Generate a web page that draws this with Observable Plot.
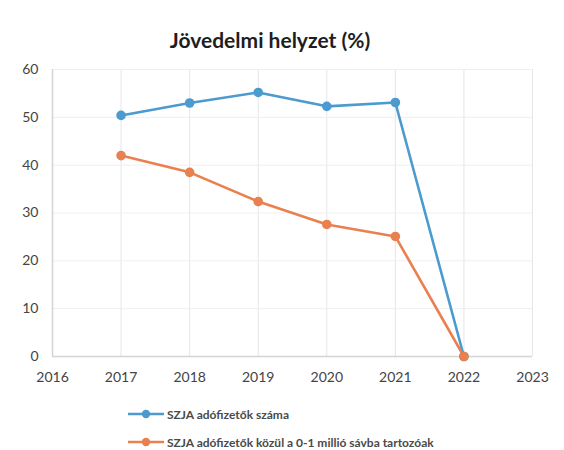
<!DOCTYPE html>
<html>
<head>
<meta charset="utf-8">
<script src="https://cdn.jsdelivr.net/npm/d3@7"></script>
<script src="https://cdn.jsdelivr.net/npm/@observablehq/plot@0.6"></script>
<style>
  body { margin: 0; background: #fff; font-family: Lato, "Open Sans", sans-serif; }
  #wrap { width: 564px; height: 450px; position: relative; }
  #title { height: 58px; line-height: 80px; text-align: center; font-weight: bold; font-size: 21px; color: #1e1e1e; padding-right: 24px; }
  #legend { position: absolute; left: 128px; top: 400px; font-size: 12px; font-weight: bold; color: #4a4a4a; }
  .item { display: flex; align-items: center; height: 28px; }
  .item svg { margin-right: 3px; }
</style>
</head>
<body>
<div id="wrap">
  <div id="title">Jövedelmi helyzet (%)</div>
  <div id="chart"></div>
  <div id="legend"></div>
</div>
<script>
const years = [2017, 2018, 2019, 2020, 2021, 2022];
const seriesNames = ["SZJA adófizetők száma", "SZJA adófizetők közül a 0-1 millió sávba tartozóak"];
const taxpayers = [50.4, 53.0, 55.2, 52.3, 53.1, 0];
const lowBand = [42.0, 38.5, 32.4, 27.6, 25.1, 0];
const xTicks = [2016, 2017, 2018, 2019, 2020, 2021, 2022, 2023];
const yTicks = [0, 10, 20, 30, 40, 50, 60];
const colors = ["#4b9bd0", "#e9804f"];

const data = [];
years.forEach((y, i) => {
  data.push({year: y, value: taxpayers[i], series: seriesNames[0]});
  data.push({year: y, value: lowBand[i], series: seriesNames[1]});
});

const chart = Plot.plot({
  width: 564,
  height: 333,
  marginTop: 11,
  marginLeft: 52,
  marginRight: 32,
  marginBottom: 35,
  style: {fontFamily: "Lato, 'Open Sans', sans-serif", fontSize: "14px", color: "#444", background: "#fff"},
  x: {domain: [2016, 2023], ticks: xTicks, tickFormat: d3.format("d"), tickSize: 0, tickPadding: 16, label: null},
  y: {domain: [0, 60], ticks: yTicks, tickSize: 0, tickPadding: 14, label: null},
  color: {domain: seriesNames, range: colors},
  marks: [
    Plot.gridX(xTicks, {stroke: "#e6e6e6", strokeOpacity: 1}),
    Plot.gridY(yTicks, {stroke: "#efefef", strokeOpacity: 1}),
    Plot.ruleX([2016], {stroke: "#d4d4d4", strokeWidth: 1.5}),
    Plot.ruleY([0], {stroke: "#d4d4d4", strokeWidth: 1.5}),
    Plot.line(data, {x: "year", y: "value", stroke: "series", strokeWidth: 2.6}),
    Plot.dot(data, {x: "year", y: "value", fill: "series", r: 4.8})
  ]
});
document.getElementById("chart").appendChild(chart);

const legend = document.getElementById("legend");
seriesNames.forEach((name, i) => {
  const div = document.createElement("div");
  div.className = "item";
  div.innerHTML = `<svg width="36" height="10"><line x1="0" y1="5" x2="36" y2="5" stroke="${colors[i]}" stroke-width="2.6"/><circle cx="18" cy="5" r="4.2" fill="${colors[i]}"/></svg><span>${name}</span>`;
  legend.appendChild(div);
});
</script>
</body>
</html>
